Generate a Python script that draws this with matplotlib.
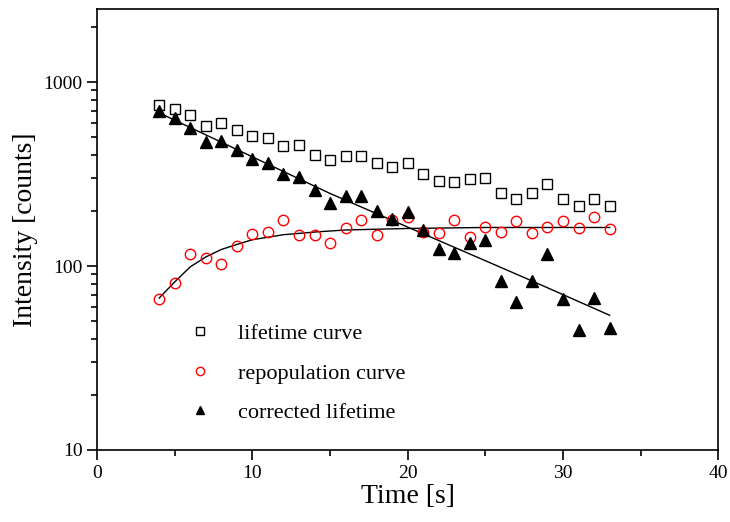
import matplotlib
matplotlib.use("Agg")
import matplotlib.pyplot as plt
from matplotlib.ticker import LogLocator, FixedLocator, NullFormatter

plt.rcParams['font.family'] = ['Liberation Serif', 'DejaVu Serif']

# measured points (time in s, intensity in counts)
time = list(range(4, 34))
lifetime = [750, 713, 661, 576, 598, 547, 508, 495, 448, 454,
            400, 376, 395, 395, 362, 345, 362, 316, 289, 285,
            296, 300, 248, 230, 248, 278, 230, 211, 230, 211]
repopulation = [66, 81, 116, 110, 103, 129, 150, 154, 177, 147,
                147, 134, 160, 179, 148, 179, 184, 154, 152, 179,
                143, 162, 154, 175, 152, 162, 175, 160, 184, 158]
corrected = [695, 637, 561, 471, 476, 425, 380, 362, 316, 304,
             258, 219, 239, 239, 200, 181, 196, 156, 124, 118,
             133, 139, 83, 64, 83, 116, 66, 45, 67, 46]

# fit curves
fit_rep_t = [4, 5, 6, 7, 8, 9, 10, 12, 14, 16, 20, 25, 28, 33]
fit_rep_v = [67, 82, 99, 112, 123, 131, 139, 148, 153, 157, 160, 162, 162, 162]
fit_dec_t = [4, 15, 28, 33]
fit_dec_v = [680, 248, 83, 54]

fig = plt.figure(figsize=(7.3, 5.22), dpi=100)
ax = fig.add_axes([0.133, 0.138, 0.851, 0.845])

ax.plot(fit_rep_t, fit_rep_v, color="black", linewidth=1)
ax.plot(fit_dec_t, fit_dec_v, color="black", linewidth=1)

ax.plot(time, lifetime, linestyle="none", marker="s", markersize=7,
        markerfacecolor="white", markeredgecolor="black", markeredgewidth=1,
        label="lifetime curve")
ax.plot(time, repopulation, linestyle="none", marker="o", markersize=7.5,
        markerfacecolor="none", markeredgecolor="red", markeredgewidth=1,
        label="repopulation curve")
ax.plot(time, corrected, linestyle="none", marker="^", markersize=8,
        color="black", label="corrected lifetime")

ax.set_yscale("log")
ax.set_xlim(0, 40)
ax.set_ylim(10, 2500)

ax.xaxis.set_major_locator(FixedLocator([0, 10, 20, 30, 40]))
ax.xaxis.set_minor_locator(FixedLocator([5, 15, 25, 35]))
ax.yaxis.set_major_locator(FixedLocator([10, 100, 1000]))
ax.yaxis.set_minor_locator(LogLocator(base=10, subs=range(2, 10)))
ax.yaxis.set_minor_formatter(NullFormatter())
ax.set_yticklabels(["10", "100", "1000"])

ax.tick_params(which="both", direction="out", top=False, right=False,
               labelsize=14, width=1.2)
ax.tick_params(which="major", length=7)
ax.tick_params(which="minor", length=4)
for s in ax.spines.values():
    s.set_linewidth(1.2)

ax.set_xlabel("Time [s]", fontsize=20, labelpad=2)
ax.set_ylabel("Intensity [counts]", fontsize=20, labelpad=4)

ax.legend(loc="upper left", bbox_to_anchor=(0.098, 0.332), frameon=False,
          fontsize=16, markerscale=0.8, handletextpad=0.7, labelspacing=0.85)

fig.savefig("out.png", dpi=100)
